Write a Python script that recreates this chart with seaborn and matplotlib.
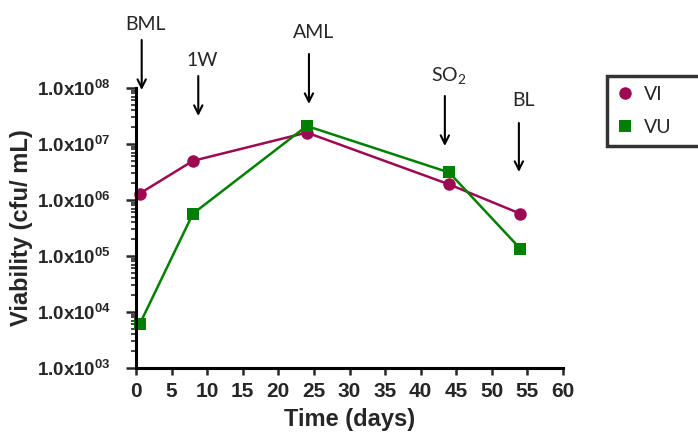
import numpy as np
import pandas as pd
import matplotlib
matplotlib.use("Agg")
import matplotlib.pyplot as plt
import matplotlib.ticker as mticker
from matplotlib.lines import Line2D
import seaborn as sns

# Data
days = [0.5, 8, 24, 44, 54]
vi = [1.3e6, 5.0e6, 1.6e7, 1.9e6, 5.7e5]
vu = [6.0e3, 5.7e5, 2.1e7, 3.1e6, 1.35e5]
series_names = ["VI", "VU"]
colors = {"VI": "#9E0A52", "VU": "#008000"}
marks = {"VI": "o", "VU": "s"}

# events marked with arrows above the plot
event_labels = ["BML", "1W", "AML", r"SO$_\mathregular{2}$", "BL"]
event_days = [0.8, 8.75, 24.3, 43.4, 53.8]

df = pd.concat([
    pd.DataFrame({"Time": days, "Viability": vi, "Group": "VI"}),
    pd.DataFrame({"Time": days, "Viability": vu, "Group": "VU"}),
])

sns.set_style("ticks")
plt.rcParams["font.family"] = ["Liberation Sans", "DejaVu Sans"]
plt.rcParams["font.weight"] = "bold"
plt.rcParams["mathtext.default"] = "regular"

fig = plt.figure(figsize=(6.98, 4.32), dpi=100)
ax = fig.add_axes([136 / 698, 1 - 368 / 432, 427 / 698, 280 / 432])

sns.lineplot(data=df, x="Time", y="Viability", hue="Group", style="Group",
             hue_order=series_names, style_order=series_names,
             palette=colors, markers=marks, dashes=False,
             markersize=9, markeredgewidth=0, linewidth=1.8,
             legend=False, ax=ax)
for l in ax.lines:
    l.set_clip_on(False)

ax.set_yscale("log")
ax.set_ylim(1e3, 1e8)
ax.set_xlim(0, 60)
ax.set_xticks(range(0, 61, 5))
ax.yaxis.set_major_locator(mticker.LogLocator(base=10, numticks=10))
ax.yaxis.set_minor_locator(mticker.LogLocator(base=10, subs=range(2, 10), numticks=20))
ax.yaxis.set_minor_formatter(mticker.NullFormatter())


def sci_fmt(v, pos):
    e = int(round(np.log10(v)))
    return "1.0x10$^{\\mathregular{%02d}}$" % e


ax.yaxis.set_major_formatter(mticker.FuncFormatter(sci_fmt))

for side in ["top", "right"]:
    ax.spines[side].set_visible(False)
for side in ["left", "bottom"]:
    ax.spines[side].set_linewidth(2.2)
    ax.spines[side].set_color("black")

ax.tick_params(axis="y", which="major", length=7, width=1.8, labelsize=13.5, pad=11)
ax.tick_params(axis="y", which="minor", length=3.5, width=1.2)
ax.tick_params(axis="x", which="major", length=5, width=1.8, labelsize=15, pad=5)

ax.set_xlabel("Time (days)", fontsize=17, fontweight="bold", labelpad=5)
ax.set_ylabel("Viability (cfu/ mL)", fontsize=17, fontweight="bold", labelpad=3)

# arrows + labels above the axes (y in figure pixels from top)
text_y = [24, 60, 33, 76, 101]
tail_y = [40, 76, 54, 96, 123]
tip_y = [90, 116, 104, 146, 172]
for lab, x, ty, a, b in zip(event_labels, event_days, text_y, tail_y, tip_y):
    ax.annotate("", xy=(x, 1 - b / 432), xytext=(x, 1 - a / 432),
                xycoords=("data", "figure fraction"),
                textcoords=("data", "figure fraction"),
                arrowprops=dict(arrowstyle="->,head_length=0.6,head_width=0.3",
                                lw=1.5, color="black", shrinkA=0, shrinkB=0),
                annotation_clip=False)
    ax.annotate(lab, xy=(x + 0.6, 1 - ty / 432),
                xycoords=("data", "figure fraction"),
                ha="center", va="center", fontsize=14,
                family=["Lato", "DejaVu Sans"], fontweight="normal",
                annotation_clip=False)

handles = [Line2D([], [], linestyle="none", marker=marks[n], color=colors[n],
                  markersize=9, markeredgewidth=0) for n in series_names]
leg = fig.legend(handles, series_names, loc="upper left", mode="expand",
                 bbox_to_anchor=(607 / 698, 1 - 142 / 432, 0.2, 66 / 432),
                 borderaxespad=0, frameon=True, fancybox=False,
                 handlelength=0.8, handletextpad=0.6, borderpad=0.5,
                 labelspacing=0.85,
                 prop={"family": "Lato", "weight": "normal", "size": 14})
leg.get_frame().set_edgecolor("black")
leg.get_frame().set_linewidth(2.5)

fig.savefig("out.png", dpi=100)
